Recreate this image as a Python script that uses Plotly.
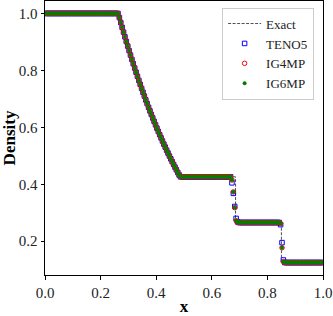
import plotly.graph_objects as go

# ---- data ----
n_cells = 200
grid_x = [round((i + 0.5) / n_cells, 4) for i in range(n_cells)]

# density inside the rarefaction fan (cells x = 0.2675 ... 0.4825)
rare = [0.9855, 0.9682, 0.9512, 0.9344, 0.9178, 0.9015, 0.8854, 0.8696, 0.8539,
        0.8385, 0.8233, 0.8084, 0.7936, 0.7791, 0.7648, 0.7507, 0.7368, 0.7231,
        0.7096, 0.6963, 0.6833, 0.6704, 0.6577, 0.6452, 0.6329, 0.6208, 0.6088,
        0.5971, 0.5855, 0.5742, 0.5629, 0.5519, 0.5410, 0.5304, 0.5198, 0.5095,
        0.4993, 0.4893, 0.4794, 0.4697, 0.4602, 0.4508, 0.4416, 0.4325]

rho_left, rho_star_l, rho_star_r, rho_right = 1.0, 0.4263, 0.2656, 0.125

teno_contact = [0.405, 0.368, 0.322, 0.280, 0.268]
teno_shock = [0.258, 0.195, 0.134]
ig4_contact = [0.415, 0.373, 0.318, 0.272, 0.267]
ig4_shock = [0.262, 0.177, 0.128]
ig6_contact = [0.415, 0.373, 0.318, 0.272, 0.267]
ig6_shock = [0.262, 0.177, 0.128]

teno5 = ([rho_left] * 53 + rare + [rho_star_l] * 37 + teno_contact
         + [rho_star_r] * 30 + teno_shock + [rho_right] * 28)
ig4mp = ([rho_left] * 53 + rare + [rho_star_l] * 37 + ig4_contact
         + [rho_star_r] * 30 + ig4_shock + [rho_right] * 28)
ig6mp = ([rho_left] * 53 + rare + [rho_star_l] * 37 + ig6_contact
         + [rho_star_r] * 30 + ig6_shock + [rho_right] * 28)

exact_x = [0.0, 0.2634] + grid_x[53:97] + [0.4859, 0.6854, 0.6854, 0.8504, 0.8504, 1.0]
exact_rho = [rho_left, rho_left] + rare + [rho_star_l, rho_star_l, rho_star_r,
                                           rho_star_r, rho_right, rho_right]

x_ticks = [0.0, 0.2, 0.4, 0.6, 0.8, 1.0]
y_ticks = [0.2, 0.4, 0.6, 0.8, 1.0]

FONT = "Liberation Serif"

fig = go.Figure()
fig.add_trace(go.Scatter(x=exact_x, y=exact_rho, mode="lines", name="Exact",
                         line=dict(color="#222222", width=0.8, dash="3px,1.5px")))
fig.add_trace(go.Scatter(x=grid_x, y=teno5, mode="markers", name="TENO5",
                         marker=dict(symbol="square-open", size=4.5, color="#0000ff",
                                     line=dict(width=1, color="#0000ff"))))
fig.add_trace(go.Scatter(x=grid_x, y=ig4mp, mode="markers", name="IG4MP",
                         marker=dict(symbol="circle-open", size=4.5, color="#ff0000",
                                     line=dict(width=1, color="#ff0000"))))
fig.add_trace(go.Scatter(x=grid_x, y=ig6mp, mode="markers", name="IG6MP",
                         marker=dict(symbol="circle", size=4, color="#008000",
                                     line=dict(width=0))))

axis_common = dict(showline=True, linecolor="black", linewidth=1, mirror=True,
                   ticks="outside", ticklen=3.5, tickwidth=0.8, tickcolor="black",
                   showgrid=False, zeroline=False, automargin=False,
                   tickfont=dict(family=FONT, size=15, color="#222222"))

fig.update_xaxes(range=[0.0, 1.0], tickvals=x_ticks, tickformat=".1f",
                 title=dict(text="<b>x</b>", font=dict(family=FONT, size=17, color="black"),
                            standoff=2), **axis_common)
fig.update_yaxes(range=[0.08125, 1.04375], tickvals=y_ticks, tickformat=".1f",
                 title=dict(text="<b>Density</b>", font=dict(family=FONT, size=17, color="black"),
                            standoff=2), **axis_common)

fig.update_layout(
    width=333, height=316,
    margin=dict(l=45, r=10, t=1, b=41),
    paper_bgcolor="white", plot_bgcolor="white",
    showlegend=True,
    legend=dict(x=0.968, y=0.976, xanchor="right", yanchor="top", itemwidth=33,
                bgcolor="rgba(255,255,255,0.9)", bordercolor="#cccccc", borderwidth=1,
                font=dict(family=FONT, size=13, color="#222222")),
)

fig.write_html("out.html", config={"displayModeBar": False},
               post_script="document.body.style.margin='0';document.body.style.overflow='hidden';")
